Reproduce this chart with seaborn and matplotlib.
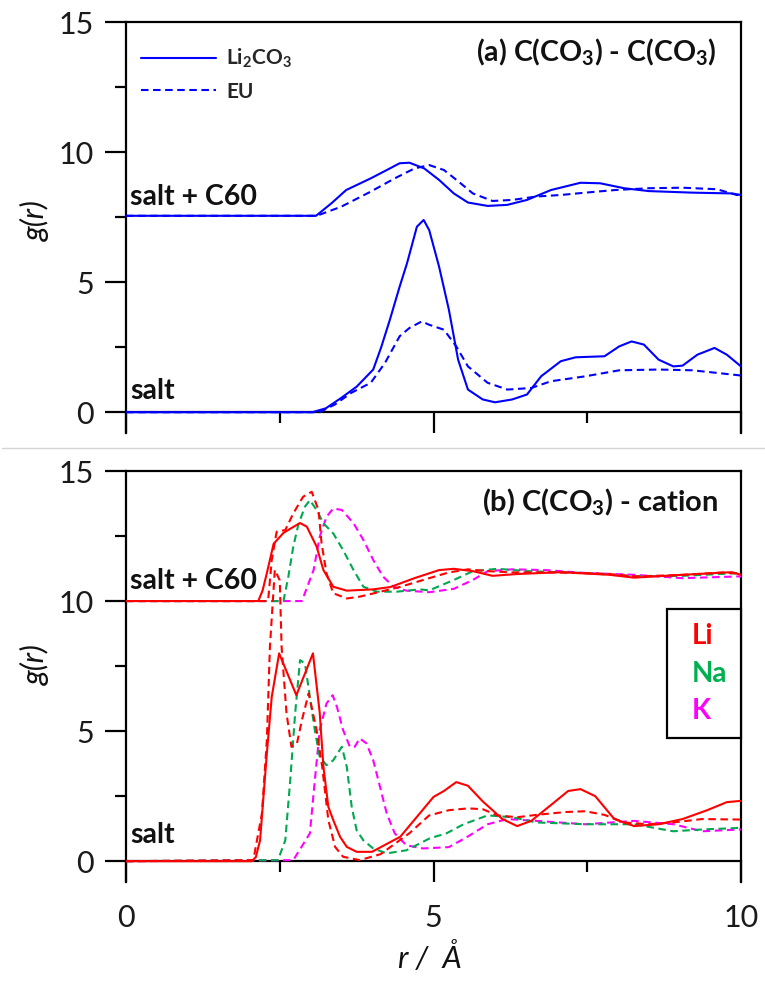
import matplotlib
matplotlib.use("Agg")
import matplotlib.pyplot as plt
from matplotlib.lines import Line2D
from matplotlib.ticker import FixedLocator
import seaborn as sns
import pandas as pd

# ---------------- data ----------------
# Panel (a): C(CO3) - C(CO3)
a_salt_li_r = [0, 3.03, 3.25, 3.5, 3.75, 4.02, 4.15, 4.29, 4.45, 4.57, 4.73, 4.84, 4.93, 5.09, 5.25, 5.40,
               5.56, 5.80, 6.0, 6.28, 6.52, 6.75, 7.07, 7.31, 7.78, 8.02, 8.22, 8.42, 8.66, 8.9, 9.05,
               9.29, 9.57, 9.77, 10.0]
a_salt_li_g = [0, 0, 0.15, 0.55, 0.98, 1.64, 2.5, 3.55, 4.83, 5.73, 7.13, 7.39, 7.0, 5.6, 3.94, 2.02,
               0.87, 0.49, 0.38, 0.49, 0.68, 1.38, 1.96, 2.11, 2.15, 2.53, 2.72, 2.6, 2.02, 1.76, 1.79,
               2.21, 2.47, 2.21, 1.76]
a_salt_eu_r = [0, 3.15, 3.4, 3.66, 3.98, 4.21, 4.45, 4.61, 4.81, 4.93, 5.17, 5.37, 5.56, 5.88, 6.20,
               6.59, 6.91, 7.47, 8.02, 8.66, 9.21, 9.61, 10]
a_salt_eu_g = [0, 0, 0.3, 0.74, 1.13, 1.89, 2.92, 3.24, 3.49, 3.36, 3.17, 2.53, 1.76, 1.13, 0.87,
               0.93, 1.19, 1.38, 1.61, 1.64, 1.61, 1.51, 1.41]
a_c60_li_r = [0, 3.09, 3.34, 3.58, 3.98, 4.29, 4.45, 4.61, 4.85, 5.09, 5.33, 5.56, 5.88, 6.20, 6.52,
              6.91, 7.39, 7.71, 8.10, 8.50, 9.21, 9.85, 10]
a_c60_li_g = [7.55, 7.55, 8.03, 8.54, 8.99, 9.37, 9.57, 9.59, 9.37, 8.93, 8.41, 8.06, 7.93, 7.97, 8.16,
              8.54, 8.82, 8.80, 8.61, 8.50, 8.44, 8.41, 8.35]
a_c60_eu_r = [0, 3.10, 3.5, 3.98, 4.37, 4.69, 4.93, 5.17, 5.41, 5.64, 5.96, 6.28, 6.67, 7.07, 7.47,
              7.95, 8.50, 9.05, 9.61, 9.93, 10]
a_c60_eu_g = [7.55, 7.55, 7.9, 8.48, 8.99, 9.37, 9.5, 9.31, 8.86, 8.41, 8.12, 8.16, 8.29, 8.35, 8.44,
              8.54, 8.61, 8.63, 8.57, 8.35, 8.35]

# Panel (b): C(CO3) - cation
b_salt_li_r = [0, 2.04, 2.11, 2.18, 2.29, 2.37, 2.49, 2.77, 3.04, 3.15, 3.21, 3.29, 3.37, 3.48, 3.59,
               3.75, 4.0, 4.46, 5.0, 5.17, 5.37, 5.56, 5.80, 6.12, 6.36, 6.59, 6.91, 7.19, 7.39, 7.63,
               7.94, 8.26, 8.66, 9.05, 9.45, 9.77, 10]
b_salt_li_g = [0, 0, 0.15, 0.8, 4.14, 6.32, 7.99, 6.38, 7.99, 5.7, 3.63, 2.09, 1.58, 0.94, 0.55,
               0.36, 0.36, 0.94, 2.47, 2.7, 3.04, 2.9, 2.3, 1.62, 1.35, 1.55, 2.16, 2.7, 2.77, 2.5,
               1.62, 1.35, 1.42, 1.62, 1.96, 2.27, 2.32]
b_salt_lieu_r = [0, 2.07, 2.21, 2.29, 2.34, 2.42, 2.5, 2.53, 2.61, 2.69, 2.78, 2.86, 2.97, 3.1, 3.19,
                 3.29, 3.4, 3.53, 3.8, 4.14, 4.61, 4.93, 5.25, 5.56, 5.80, 6.04, 6.36, 6.67, 7.15,
                 7.47, 7.78, 8.1, 8.5, 8.9, 9.37, 10]
b_salt_lieu_g = [0, 0.04, 1.83, 4.65, 8.24, 11.2, 10.8, 8.24, 5.68, 4.4, 4.53, 5.42, 6.45, 5.04, 3.63,
                 1.58, 0.55, 0.17, 0.04, 0.27, 1.08, 1.76, 1.96, 2.03, 2.0, 1.76, 1.69, 1.78, 1.89,
                 1.92, 1.78, 1.49, 1.42, 1.49, 1.62, 1.6]
b_salt_na_r = [0, 2.47, 2.59, 2.67, 2.75, 2.83, 2.91, 2.99, 3.07, 3.15, 3.26, 3.37, 3.51, 3.59, 3.67,
               3.75, 3.86, 4.02, 4.24, 4.56, 4.94, 5.21, 5.49, 5.88, 6.28, 6.67, 7.47, 8.26, 8.9,
               9.37, 10]
b_salt_na_g = [0, 0.04, 0.8, 3.1, 5.68, 7.73, 7.6, 6.32, 5.04, 4.01, 3.69, 3.88, 4.4, 3.63, 2.09,
               1.19, 0.8, 0.49, 0.3, 0.42, 0.88, 1.07, 1.42, 1.76, 1.69, 1.49, 1.42, 1.42, 1.15,
               1.22, 1.28]
b_salt_k_r = [0, 2.72, 2.99, 3.07, 3.15, 3.26, 3.36, 3.43, 3.53, 3.64, 3.72, 3.8, 3.91, 4.02, 4.13,
              4.24, 4.37, 4.56, 4.83, 5.25, 5.56, 5.88, 6.20, 6.67, 7.47, 8.26, 8.9, 9.37, 10]
b_salt_k_g = [0, 0.04, 1.07, 3.1, 5.04, 6.06, 6.38, 5.93, 5.04, 4.4, 4.4, 4.72, 4.53, 3.88, 2.86,
              1.83, 1.07, 0.61, 0.49, 0.54, 0.95, 1.42, 1.62, 1.55, 1.42, 1.55, 1.42, 1.15, 1.22]
b_c60_li_r = [0, 2.15, 2.22, 2.29, 2.4, 2.56, 2.72, 2.83, 2.94, 3.1, 3.21, 3.37, 3.59, 4.02, 4.30,
              4.69, 5.09, 5.33, 5.64, 5.96, 6.36, 7.07, 7.86, 8.26, 9.05, 9.85, 10]
b_c60_li_g = [10, 10, 10.4, 11.07, 12.2, 12.62, 12.85, 13.0, 12.86, 12.09, 11.19, 10.55, 10.4, 10.45,
              10.54, 10.88, 11.19, 11.24, 11.15, 10.97, 11.04, 11.11, 11.01, 10.9, 11.01, 11.11, 11.01]
b_c60_lieu_r = [0, 2.31, 2.37, 2.45, 2.59, 2.72, 2.88, 3.02, 3.13, 3.18, 3.26, 3.37, 3.59, 3.8, 3.98,
                4.45, 4.93, 5.25, 5.56, 5.88, 6.28, 7.0, 7.8, 8.3, 9.0, 9.7, 10]
b_c60_lieu_g = [10, 10, 11.58, 12.67, 12.73, 13.37, 14.01, 14.2, 13.5, 12.22, 11.07, 10.3, 10.1,
                10.17, 10.27, 10.54, 10.88, 11.1, 11.22, 11.15, 11.1, 11.1, 11.05, 10.95, 11.0,
                11.1, 11.05]
b_c60_na_r = [0, 2.56, 2.64, 2.72, 2.8, 2.91, 2.99, 3.1, 3.21, 3.37, 3.53, 3.7, 3.86, 4.08, 4.4,
              4.78, 4.93, 5.33, 5.64, 6.04, 6.52, 7.47, 8.26, 9.05, 10]
b_c60_na_g = [10, 10, 10.94, 12.09, 12.92, 13.63, 13.88, 13.5, 12.99, 12.6, 11.96, 11.19, 10.55,
              10.36, 10.36, 10.45, 10.41, 10.81, 11.15, 11.24, 11.15, 11.08, 10.95, 10.97, 11.08]
b_c60_k_r = [0, 2.86, 3.05, 3.15, 3.26, 3.37, 3.51, 3.7, 3.86, 4.02, 4.18, 4.35, 4.56, 4.93, 5.33,
             5.64, 5.88, 6.28, 6.83, 7.47, 8.26, 9.05, 10]
b_c60_k_g = [10, 10, 11.19, 12.47, 13.24, 13.56, 13.5, 12.99, 12.35, 11.58, 10.94, 10.55, 10.4,
             10.34, 10.47, 10.81, 11.15, 11.22, 11.19, 11.08, 11.01, 10.88, 10.95]

x_ticks_major = [0, 5, 10]
x_ticks_minor = [2.5, 7.5]
y_ticks_major = [0, 5, 10, 15]
y_ticks_minor = [2.5, 7.5, 12.5]
cation_labels = ["Li", "Na", "K"]

# ---------------- style ----------------
sns.set_style("white")
FONT = ["Lato", "DejaVu Sans"]
plt.rcParams["font.family"] = FONT
plt.rcParams["mathtext.default"] = "regular"

BLUE = "#0000ff"
RED = "#ff0000"
GREEN_LINE = "#00a84f"
GREEN_TXT = "#00b050"
MAGENTA = "#ff00ff"
TXT = "#111111"
LW = 1.5
DASH = (0, (3.6, 2.2))

fig = plt.figure(figsize=(7.65, 9.9), dpi=100)
W, H = 765.0, 990.0
left, right = 126 / W, 741 / W
ax_a = fig.add_axes([left, 1 - 433 / H, right - left, 411 / H])
ax_b = fig.add_axes([left, 1 - 882 / H, right - left, 411 / H])


def style_axis(ax, show_xlabels):
    ax.set_xlim(0, 10)
    ax.set_ylim(-0.8, 15)
    for side in ["left", "right", "top", "bottom"]:
        ax.spines[side].set_visible(True)
        ax.spines[side].set_color("black")
        ax.spines[side].set_linewidth(1.6)
    ax.spines["bottom"].set_position(("data", 0))
    ax.spines["bottom"].set_zorder(1)
    ax.xaxis.set_major_locator(FixedLocator(x_ticks_major))
    ax.xaxis.set_minor_locator(FixedLocator(x_ticks_minor))
    ax.yaxis.set_major_locator(FixedLocator(y_ticks_major))
    ax.yaxis.set_minor_locator(FixedLocator(y_ticks_minor))
    ax.tick_params(axis="both", which="major", direction="out", length=15, width=1.6,
                   color="black", labelsize=22, labelcolor="#1a1a1a")
    ax.tick_params(axis="both", which="minor", direction="out", length=8, width=1.6, color="black")
    ax.tick_params(axis="y", which="both", left=True, right=False, pad=8)
    ax.tick_params(axis="x", which="both", bottom=True, top=False, pad=16)
    ax.tick_params(axis="x", labelbottom=show_xlabels)
    ax.set_xlabel("")
    ax.set_ylabel("")


def draw(ax, r, g, color, dashed=False, label=None):
    df = pd.DataFrame({"r": r, "g": g})
    kw = dict(linestyle=DASH) if dashed else dict(linestyle="-")
    sns.lineplot(data=df, x="r", y="g", ax=ax, color=color, linewidth=LW,
                 estimator=None, sort=False, label=label, legend=False, zorder=3, **kw)


# ----- panel (a) -----
draw(ax_a, a_c60_eu_r, a_c60_eu_g, BLUE, dashed=True)
draw(ax_a, a_c60_li_r, a_c60_li_g, BLUE)
draw(ax_a, a_salt_eu_r, a_salt_eu_g, BLUE, dashed=True, label="EU")
draw(ax_a, a_salt_li_r, a_salt_li_g, BLUE, label="Li$_2$CO$_3$")
style_axis(ax_a, False)

h, l = ax_a.get_legend_handles_labels()
order = [l.index("Li$_2$CO$_3$"), l.index("EU")]
ax_a.legend([h[i] for i in order], [l[i] for i in order], loc="upper left",
            bbox_to_anchor=(0.0, 0.975), frameon=False, handlelength=3.6,
            handletextpad=0.5, labelspacing=0.55, borderaxespad=0.3,
            prop={"family": FONT, "weight": "bold", "size": 15})

ax_a.text(9.6, 13.5, "(a) C(CO$_3$) - C(CO$_3$)", ha="right", va="baseline",
          fontsize=20.5, fontweight="bold", color=TXT)
ax_a.text(0.07, 7.97, "salt + C60", ha="left", va="baseline",
          fontsize=20.5, fontweight="bold", color=TXT)
ax_a.text(0.07, 0.49, "salt", ha="left", va="baseline",
          fontsize=20.5, fontweight="bold", color=TXT)

# ----- panel (b) -----
draw(ax_b, b_c60_k_r, b_c60_k_g, MAGENTA, dashed=True)
draw(ax_b, b_c60_na_r, b_c60_na_g, GREEN_LINE, dashed=True)
draw(ax_b, b_c60_lieu_r, b_c60_lieu_g, RED, dashed=True)
draw(ax_b, b_c60_li_r, b_c60_li_g, RED)
draw(ax_b, b_salt_k_r, b_salt_k_g, MAGENTA, dashed=True)
draw(ax_b, b_salt_na_r, b_salt_na_g, GREEN_LINE, dashed=True)
draw(ax_b, b_salt_lieu_r, b_salt_lieu_g, RED, dashed=True)
draw(ax_b, b_salt_li_r, b_salt_li_g, RED)
style_axis(ax_b, True)

blank = [Line2D([], [], linestyle="none") for _ in cation_labels]
leg_b = ax_b.legend(blank, cation_labels, loc="upper right", bbox_to_anchor=(1.0, 0.664),
                    borderaxespad=0.0, frameon=True, fancybox=False, framealpha=1.0,
                    handlelength=0.4, handletextpad=0.0, borderpad=0.5, labelspacing=0.42,
                    labelcolor=[RED, GREEN_TXT, MAGENTA],
                    prop={"family": FONT, "weight": "bold", "size": 20})
leg_b.get_frame().set_edgecolor("black")
leg_b.get_frame().set_linewidth(1.6)
leg_b.get_frame().set_facecolor("white")

ax_b.text(9.63, 13.45, "(b) C(CO$_3$) - cation", ha="right", va="baseline",
          fontsize=21, fontweight="bold", color=TXT)
ax_b.text(0.07, 10.45, "salt + C60", ha="left", va="baseline",
          fontsize=20.5, fontweight="bold", color=TXT)
ax_b.text(0.07, 0.69, "salt", ha="left", va="baseline",
          fontsize=20.5, fontweight="bold", color=TXT)

# axis labels
for yc in (221, 665):
    fig.text(35 / W, 1 - yc / H, "g(r)", rotation=90, ha="center", va="center",
             fontsize=22, fontstyle="italic", color=TXT)
fig.text(430 / W, 1 - 958 / H, "r /  Å", ha="center", va="center",
         fontsize=22, fontstyle="italic", color=TXT)

# separator line between panels
fig.add_artist(Line2D([0.003, 1.0], [1 - 448 / H, 1 - 448 / H], transform=fig.transFigure,
                      color="#d4d4d4", linewidth=1.0))

fig.savefig("out.png", dpi=100)
